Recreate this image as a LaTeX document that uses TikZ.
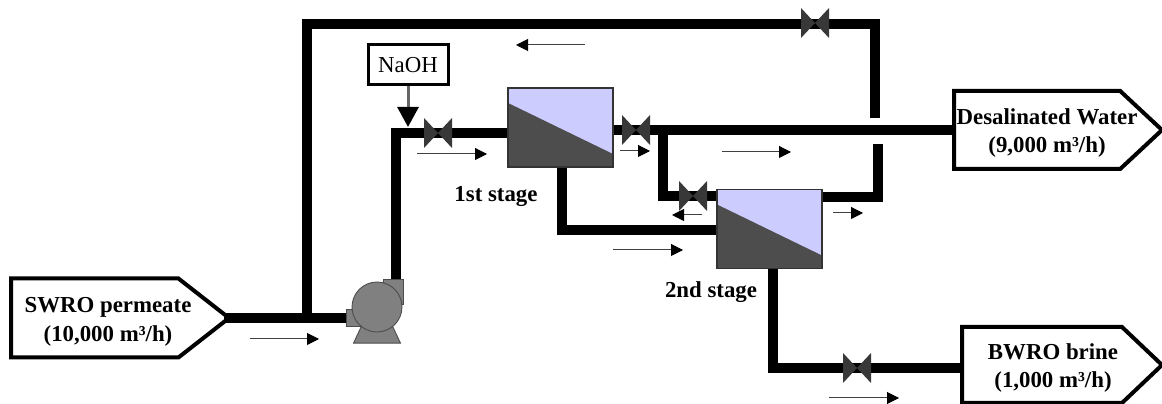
\documentclass[tikz,border=0pt]{standalone}
\usepackage{fontspec}
\setmainfont{Liberation Serif}
\usetikzlibrary{positioning,arrows.meta,backgrounds,shapes.symbols,shapes.geometric}
\definecolor{lilac}{HTML}{CCCCFF}
\definecolor{darkfill}{HTML}{4D4D4D}
\definecolor{valvefill}{HTML}{383838}
\definecolor{pumpgray}{HTML}{808080}
\newcommand{\px}{0.02cm}
\begin{document}
\begin{tikzpicture}[x=\px,y=-\px,font=\fontsize{13}{16.4}\selectfont,
  stream/.style={draw=black,line width=4*\px,shape=signal,signal to=east,inner sep=1pt,anchor=west},
  membrane/.style={draw=black!80,fill=lilac,line width=0.8pt,minimum width=105*\px,minimum height=79*\px,inner sep=0pt,
    path picture={\fill[darkfill] ([yshift=-15*\px]path picture bounding box.north west) -- ([yshift=13*\px]path picture bounding box.south east) -- (path picture bounding box.south east) -- (path picture bounding box.south west) -- cycle;}},
  valve/.style={minimum width=28*\px,minimum height=30*\px,inner sep=0pt,
    path picture={\fill[valvefill] (path picture bounding box.north west) -- (path picture bounding box.south east) -- (path picture bounding box.north east) -- (path picture bounding box.south west) -- cycle;}},
  pumppart/.style={draw=black!70,fill=pumpgray,line width=0.5pt,inner sep=1pt},
  lab/.style={font=\fontsize{13}{16.4}\selectfont\bfseries,align=center},
  pipe/.style={line width=10*\px,line join=miter},
  flow/.style={-{Triangle[length=12*\px,width=12*\px,color=black]},draw=black!75,line width=1*\px},
  dose/.style={-{Triangle[length=20*\px,width=21*\px,color=black]},draw=black!60,line width=3*\px}]
\useasboundingbox (0,0) rectangle (1162,404);
% feed, product and brine
\node[stream,minimum width=218*\px,minimum height=79*\px,signal pointer angle=76] (swro) at (9,318) {};
\node[stream,minimum width=208*\px,minimum height=78*\px,signal pointer angle=86] (desal) at (952,130) {};
\node[stream,minimum width=200*\px,minimum height=76*\px,signal pointer angle=87] (bwro) at (960,365) {};
\node[lab] (swroText) at (108,322) {SWRO permeate\\(10,000 m³/h)};
\node[lab] (desalText) at (1047,133) {Desalinated Water\\(9,000 m³/h)};
\node[lab] (bwroText) at (1053,368) {BWRO brine\\(1,000 m³/h)};
% pump
\node[pumppart,shape=trapezium,trapezium left angle=65,trapezium right angle=65,minimum width=47*\px,minimum height=17*\px] (pumpBase) at (377,331) {};
\node[pumppart,minimum width=18*\px,minimum height=17*\px] (pumpIn) at (355,318) {};
\node[pumppart,minimum width=20*\px,minimum height=25*\px] (pumpOut) at (393,292) {};
\node[pumppart,shape=circle,minimum size=50*\px] (pump) at (377,307) {};
% stages
\node[membrane] (stageA) at (560.5,127.5) {};
\node[membrane] (stageB) at (769.5,229) {};
\node[lab] (labA) at (496,196) {1st stage};
\node[lab] (labB) at (711,292) {2nd stage};
% dosing
\node[draw=black,line width=3*\px,minimum width=80*\px,minimum height=40*\px,inner sep=0pt] (naoh) at (408,65) {NaOH};
\coordinate (doseEnd) at (408,127);
\draw[dose] (naoh.south) -- (doseEnd);
% valves
\node[valve] (valveFeed) at (438,133) {};
\node[valve] (valveProd) at (636,130) {};
\node[valve] (valveB) at (693,196) {};
\node[valve] (valveRec) at (815,23) {};
\node[valve] (valveBrine) at (857,368) {};
% pipe ends
\coordinate (swroOut) at (224,318);
\coordinate (teeIn) at (307,318);
\coordinate (teeTop) at (307,24);
\coordinate (pumpTop) at (396,282);
\coordinate (feedA) at (508,133);
\coordinate (prodA) at (613,130);
\coordinate (desalIn) at (956,130);
\coordinate (teeProd) at (663,130);
\coordinate (feedB) at (717,196);
\coordinate (concA) at (562,167);
\coordinate (concB) at (717,230);
\coordinate (brineA) at (773,269);
\coordinate (bwroIn) at (963,368);
\coordinate (recB) at (823,197);
\coordinate (jumpB) at (878,144);
\coordinate (jumpA) at (875,118);
\begin{scope}[on background layer]
\draw[pipe] (swroOut) -- (pumpIn.west);
\draw[pipe] (teeIn) -- (teeTop) -| (jumpA);
\draw[pipe] (recB) -| (jumpB);
\draw[pipe] (pumpTop) |- (feedA);
\draw[pipe] (prodA) -- (desalIn);
\draw[pipe] (teeProd) |- (feedB);
\draw[pipe] (concA) |- (concB);
\draw[pipe] (brineA) |- (bwroIn);
\end{scope}
% flow arrows
\coordinate (flowTopA) at (585,45); \coordinate (flowTopB) at (516,45); \draw[flow] (flowTopA) -- (flowTopB);
\coordinate (flowFeedA) at (417,154); \coordinate (flowFeedB) at (487,154); \draw[flow] (flowFeedA) -- (flowFeedB);
\coordinate (flowProdA) at (620,151); \coordinate (flowProdB) at (650,151); \draw[flow] (flowProdA) -- (flowProdB);
\coordinate (flowMainA) at (722,152); \coordinate (flowMainB) at (791,152); \draw[flow] (flowMainA) -- (flowMainB);
\coordinate (flowBackA) at (702,215); \coordinate (flowBackB) at (672,215); \draw[flow] (flowBackA) -- (flowBackB);
\coordinate (flowRecA) at (833,213); \coordinate (flowRecB) at (863,213); \draw[flow] (flowRecA) -- (flowRecB);
\coordinate (flowConcA) at (613,250); \coordinate (flowConcB) at (683,250); \draw[flow] (flowConcA) -- (flowConcB);
\coordinate (flowInA) at (250,339); \coordinate (flowInB) at (319,339); \draw[flow] (flowInA) -- (flowInB);
\coordinate (flowBrineA) at (829,398); \coordinate (flowBrineB) at (899,398); \draw[flow] (flowBrineA) -- (flowBrineB);
\end{tikzpicture}
\end{document}
